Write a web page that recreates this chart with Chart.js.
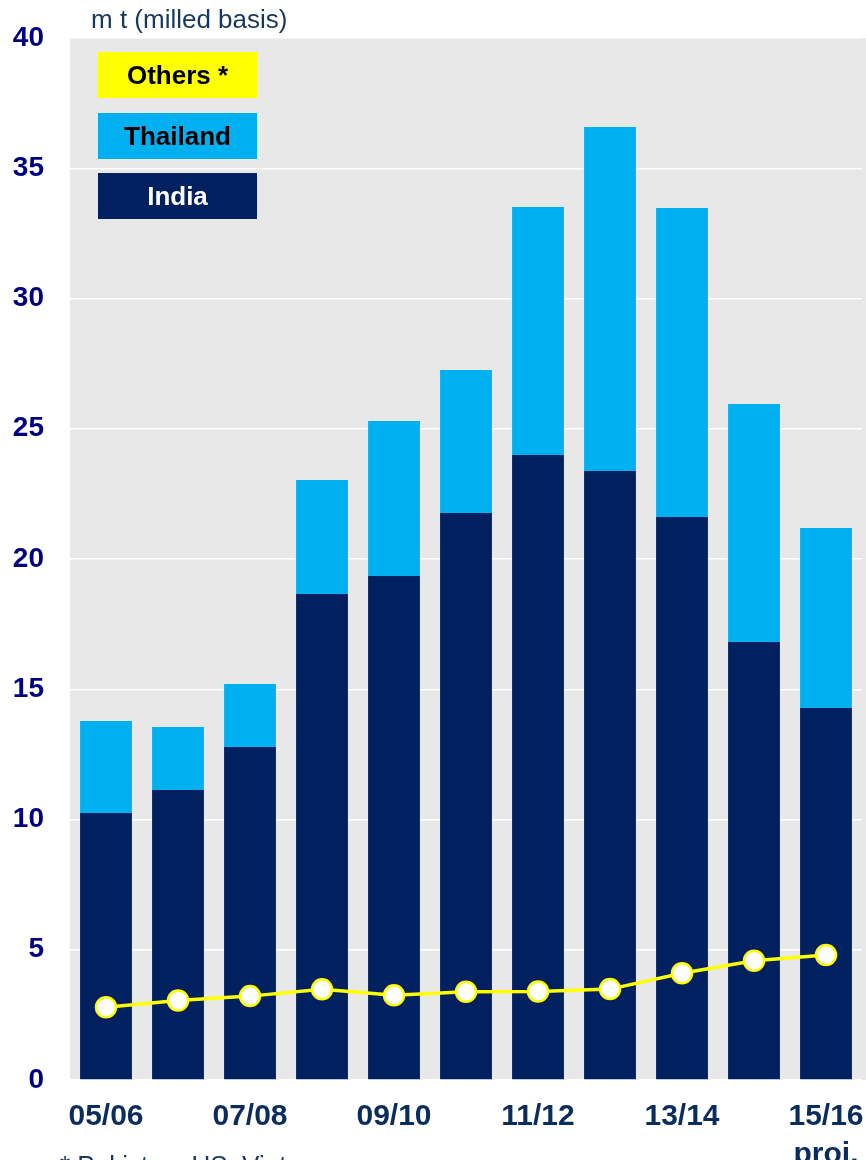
<!DOCTYPE html>
<html>
<head>
<meta charset="utf-8">
<script src="https://cdn.jsdelivr.net/npm/chart.js@4.4.1/dist/chart.umd.min.js"></script>
<style>
  html, body { margin: 0; padding: 0; background: #fff; }
  #wrap { position: relative; width: 866px; height: 1160px; overflow: hidden; font-family: Arial, "Liberation Sans", sans-serif; }
  #unit { position: absolute; left: 91px; top: 4px; font-size: 26px; line-height: 30px; color: #17375e; }
  .lg { position: absolute; left: 98px; width: 159px; height: 46px; line-height: 46px; text-align: center;
        font-weight: bold; font-size: 26px; color: #000; }
  #note { position: absolute; left: 60px; top: 1150px; font-size: 26px; line-height: 30px; color: #17375e; }
</style>
</head>
<body>
<div id="wrap">
  <canvas id="c" width="866" height="1160"></canvas>
  <div id="unit">m t (milled basis)</div>
  <div class="lg" style="top:52px;background:#ffff00;">Others *</div>
  <div class="lg" style="top:113px;background:#00b0f0;">Thailand</div>
  <div class="lg" style="top:173px;background:#002060;color:#fff;">India</div>
  <div id="note">* Pakistan, US, Vietnam</div>
</div>
<script>
'use strict';

// ─── 데이터 ──────────────────────────────────────────────
const seasons  = ['05/06', '06/07', '07/08', '08/09', '09/10', '10/11', '11/12', '12/13', '13/14', '14/15', '15/16'];
const india    = [10.25, 11.13, 12.78, 18.66, 19.35, 21.77, 23.99, 23.38, 21.61, 16.81, 14.28];
const thailand = [3.53, 2.42, 2.42, 4.37, 5.95, 5.49, 9.52, 13.20, 11.86, 9.14, 6.91];
const others   = [2.79, 3.05, 3.22, 3.48, 3.25, 3.39, 3.40, 3.49, 4.10, 4.58, 4.80];
const yTicks   = [0, 5, 10, 15, 20, 25, 30, 35, 40];

// 플롯 배경 (회색)
const plotBg = {
  id: 'plotBg',
  beforeDraw(chart) {
    const { ctx, chartArea: { left, top, bottom } } = chart;
    ctx.save();
    ctx.fillStyle = '#e8e8e8';
    ctx.fillRect(left, top, chart.width - left, bottom - top);
    ctx.restore();
  }
};

new Chart(document.getElementById('c'), {
  data: {
    labels: seasons,
    datasets: [
      {
        type: 'line', label: 'Others *', data: others, stack: 'others', order: 0,
        borderColor: '#ffff00', borderWidth: 3.5,
        pointRadius: 10, pointBorderWidth: 2.5,
        pointBackgroundColor: '#ffffff', pointBorderColor: '#ffff00',
        tension: 0, clip: false
      },
      {
        type: 'bar', label: 'India', data: india, stack: 'main', order: 1,
        backgroundColor: '#002060', barPercentage: 0.72, categoryPercentage: 1
      },
      {
        type: 'bar', label: 'Thailand', data: thailand, stack: 'main', order: 1,
        backgroundColor: '#00b0f0', barPercentage: 0.72, categoryPercentage: 1
      }
    ]
  },
  options: {
    responsive: false,
    animation: false,
    layout: { autoPadding: false, padding: { top: 38, right: 4 } },
    plugins: { legend: { display: false }, tooltip: { enabled: false } },
    scales: {
      x: {
        stacked: true,
        grid: { display: false },
        border: { display: false },
        afterFit: s => { s.height = 80; s.paddingLeft = 0; s.paddingRight = 0; },
        ticks: {
          autoSkip: false, maxRotation: 0, padding: 10,
          color: '#0b2d5e',
          font: { family: 'Arial, "Liberation Sans", sans-serif', size: 30, weight: 'bold', lineHeight: 1.25 },
          callback: (v, i) => {
            if (i % 2) return '';
            return i === seasons.length - 1 ? [seasons[i], 'proj.'] : seasons[i];
          }
        }
      },
      y: {
        stacked: true,
        min: 0, max: 40,
        afterFit: s => { s.width = 70; s.paddingTop = 0; s.paddingBottom = 0; },
        afterBuildTicks: s => { s.ticks = yTicks.map(v => ({ value: v })); },
        grid: { color: '#ffffff', lineWidth: 1.5, drawTicks: false },
        border: { display: false },
        ticks: {
          padding: 26, color: '#000080',
          font: { family: 'Arial, "Liberation Sans", sans-serif', size: 28, weight: 'bold' }
        }
      }
    }
  },
  plugins: [plotBg]
});
</script>
</body>
</html>
